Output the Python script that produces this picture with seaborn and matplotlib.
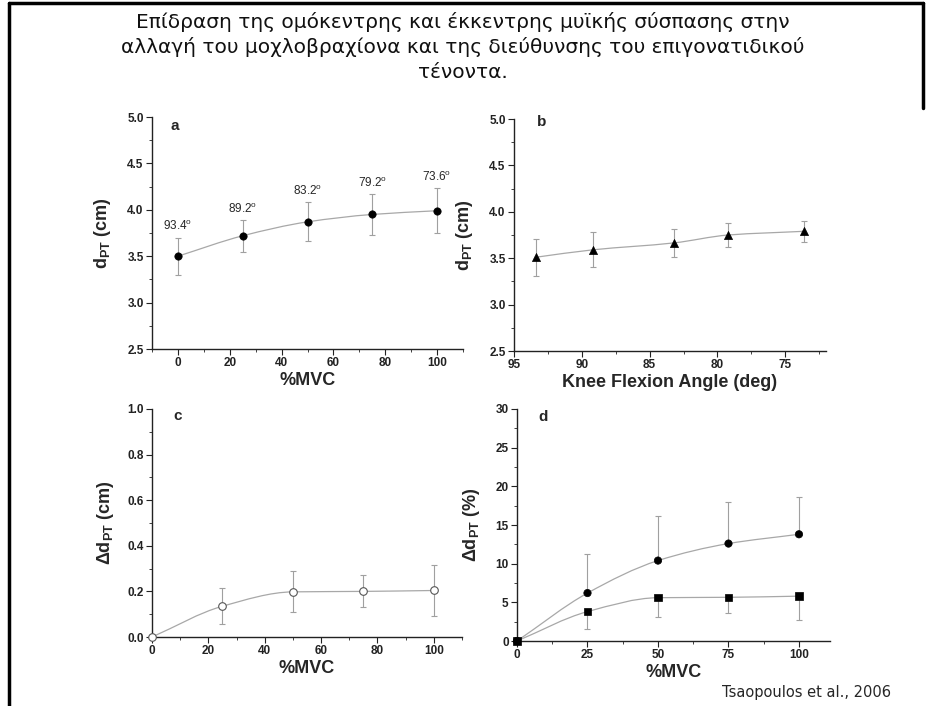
import numpy as np
import pandas as pd
import matplotlib
matplotlib.use("Agg")
import matplotlib.pyplot as plt
import seaborn as sns
from matplotlib.path import Path
from matplotlib.patches import PathPatch
from matplotlib.ticker import MultipleLocator
from matplotlib.lines import Line2D

# ---- data -------------------------------------------------------------
mvc = [0, 25, 50, 75, 100]

# (a) patellar tendon moment arm vs %MVC, with the knee angle at each level
d_pt = [3.50, 3.72, 3.87, 3.95, 3.99]
d_pt_sd = [0.20, 0.17, 0.21, 0.22, 0.24]
angle_labels = ["93.4", "89.2", "83.2", "79.2", "73.6"]

# (b) moment arm vs knee flexion angle
knee_angle = [93.4, 89.2, 83.2, 79.2, 73.6]
d_pt_angle = [3.51, 3.59, 3.665, 3.75, 3.79]
d_pt_angle_sd = [0.20, 0.19, 0.155, 0.125, 0.115]

# (c) absolute change of the moment arm
delta_cm = [0.0, 0.135, 0.198, 0.200, 0.204]
delta_cm_sd = [0.0, 0.08, 0.09, 0.07, 0.11]

# (d) relative change of the moment arm, two series
delta_pct_circ = [0.0, 6.2, 10.4, 12.6, 13.8]
delta_pct_circ_sd = [0.0, 5.1, 5.7, 5.4, 4.8]
delta_pct_sq = [0.0, 3.8, 5.6, 5.65, 5.8]
delta_pct_sq_sd = [0.0, 2.3, 2.5, 2.0, 3.1]

title_lines = [
    "Επίδραση της ομόκεντρης και έκκεντρης μυϊκής σύσπασης στην",
    "αλλαγή του μοχλοβραχίονα και της διεύθυνσης του επιγονατιδικού",
    "τένοντα.",
]
citation = "Tsaopoulos et al., 2006"

# ---- style ------------------------------------------------------------
sns.set_style("ticks")
plt.rcParams["font.family"] = ["Liberation Sans", "DejaVu Sans"]
plt.rcParams["font.weight"] = "bold"
plt.rcParams["mathtext.default"] = "regular"

LINE_C = "#a8a8a8"
ERR_C = "#a0a0a0"
TICK_FS = 8.5
LABEL_FS = 13


def smooth_path(x, y):
    """Monotone cubic (PCHIP-style) Bezier path through the given points."""
    x = np.asarray(x, float)
    y = np.asarray(y, float)
    h = np.diff(x)
    delta = np.diff(y) / h
    m = np.zeros_like(y)
    m[0], m[-1] = delta[0], delta[-1]
    for k in range(1, len(x) - 1):
        if delta[k - 1] * delta[k] <= 0:
            m[k] = 0.0
        else:
            w1 = 2 * h[k] + h[k - 1]
            w2 = h[k] + 2 * h[k - 1]
            m[k] = (w1 + w2) / (w1 / delta[k - 1] + w2 / delta[k])
    verts = [(x[0], y[0])]
    codes = [Path.MOVETO]
    for k in range(len(x) - 1):
        verts += [(x[k] + h[k] / 3, y[k] + m[k] * h[k] / 3),
                  (x[k + 1] - h[k] / 3, y[k + 1] - m[k + 1] * h[k] / 3),
                  (x[k + 1], y[k + 1])]
        codes += [Path.CURVE4] * 3
    return Path(verts, codes)


def add_curve(ax, x, y):
    ax.add_patch(PathPatch(smooth_path(x, y), facecolor="none",
                           edgecolor=LINE_C, lw=0.9, zorder=1))


def style_axis(ax, xmaj, xmin, ymaj, ymin):
    sns.despine(ax=ax)
    for s in ("left", "bottom"):
        ax.spines[s].set_linewidth(1.0)
        ax.spines[s].set_color("#222222")
    ax.xaxis.set_major_locator(MultipleLocator(xmaj))
    ax.xaxis.set_minor_locator(MultipleLocator(xmin))
    ax.yaxis.set_major_locator(MultipleLocator(ymaj))
    ax.yaxis.set_minor_locator(MultipleLocator(ymin))
    ax.tick_params(which="major", direction="out", length=4, width=0.8,
                   labelsize=TICK_FS, pad=2, colors="#222222")
    ax.tick_params(which="minor", direction="out", length=2, width=0.6,
                   colors="#222222")
    for lab in ax.get_xticklabels() + ax.get_yticklabels():
        lab.set_fontweight("bold")


def panel_letter(ax, x, y, s):
    ax.text(x, y, s, transform=ax.transAxes, fontsize=11,
            fontweight="bold", va="center", ha="left")


W, H = 931, 706
fig = plt.figure(figsize=(W / 100, H / 100), dpi=100)


def add_ax(left, top, right, bottom):
    return fig.add_axes([left / W, 1 - bottom / H,
                         (right - left) / W, (bottom - top) / H])


ax_a = add_ax(152, 117, 463, 349)
ax_b = add_ax(514, 119, 826, 351)
ax_c = add_ax(152, 409, 462, 637)
ax_d = add_ax(517, 409, 830, 641)

# ---- (a) --------------------------------------------------------------
df_a = pd.DataFrame({"mvc": mvc, "d": d_pt, "sd": d_pt_sd, "ang": angle_labels})
add_curve(ax_a, df_a["mvc"], df_a["d"])
ax_a.errorbar(df_a["mvc"], df_a["d"], yerr=df_a["sd"], fmt="none",
              ecolor=ERR_C, elinewidth=0.8, capsize=2.2, capthick=0.8, zorder=2)
sns.scatterplot(data=df_a, x="mvc", y="d", ax=ax_a, marker="o", s=28,
                color="black", edgecolor="black", linewidth=0.5, zorder=3,
                legend=False)
for _, r in df_a.iterrows():
    ax_a.annotate(f"{r['ang']}$^o$", (r["mvc"], r["d"] + r["sd"]),
                  xytext=(0, 3), textcoords="offset points",
                  ha="center", va="bottom", fontsize=8.5, fontweight="normal")
ax_a.set_xlim(-10, 110)
ax_a.set_ylim(2.5, 5.0)
style_axis(ax_a, 20, 10, 0.5, 0.25)
ax_a.set_xlabel("%MVC", fontsize=LABEL_FS, fontweight="bold", labelpad=2)
ax_a.set_ylabel("d$_{PT}$ (cm)", fontsize=LABEL_FS, fontweight="bold",
                labelpad=10)
panel_letter(ax_a, 0.06, 0.96, "a")

# ---- (b) --------------------------------------------------------------
df_b = pd.DataFrame({"angle": knee_angle, "d": d_pt_angle, "sd": d_pt_angle_sd})
add_curve(ax_b, df_b["angle"], df_b["d"])
ax_b.errorbar(df_b["angle"], df_b["d"], yerr=df_b["sd"], fmt="none",
              ecolor=ERR_C, elinewidth=0.8, capsize=2.2, capthick=0.8, zorder=2)
sns.scatterplot(data=df_b, x="angle", y="d", ax=ax_b, marker="^", s=34,
                color="black", edgecolor="black", linewidth=0.5, zorder=3,
                legend=False)
ax_b.set_xlim(95, 72)
ax_b.set_ylim(2.5, 5.0)
style_axis(ax_b, 5, 2.5, 0.5, 0.25)
ax_b.set_xlabel("Knee Flexion Angle (deg)", fontsize=LABEL_FS,
                fontweight="bold", labelpad=2)
ax_b.set_ylabel("d$_{PT}$ (cm)", fontsize=LABEL_FS, fontweight="bold",
                labelpad=10)
panel_letter(ax_b, 0.075, 0.985, "b")

# ---- (c) --------------------------------------------------------------
df_c = pd.DataFrame({"mvc": mvc, "d": delta_cm, "sd": delta_cm_sd})
add_curve(ax_c, df_c["mvc"], df_c["d"])
ax_c.errorbar(df_c["mvc"], df_c["d"], yerr=df_c["sd"], fmt="none",
              ecolor=ERR_C, elinewidth=0.8, capsize=2.2, capthick=0.8, zorder=2)
sns.scatterplot(data=df_c, x="mvc", y="d", ax=ax_c, marker="o", s=30,
                color="white", edgecolor="#555555", linewidth=0.8, zorder=3,
                legend=False, clip_on=False)
ax_c.set_xlim(0, 110)
ax_c.set_ylim(0, 1.0)
style_axis(ax_c, 20, 10, 0.2, 0.1)
ax_c.set_xlabel("%MVC", fontsize=LABEL_FS, fontweight="bold", labelpad=2)
ax_c.set_ylabel("Δd$_{PT}$ (cm)", fontsize=LABEL_FS, fontweight="bold",
                labelpad=8)
panel_letter(ax_c, 0.068, 0.97, "c")

# ---- (d) --------------------------------------------------------------
df_d = pd.DataFrame({"mvc": mvc * 2,
                     "d": delta_pct_circ + delta_pct_sq,
                     "series": ["circle"] * 5 + ["square"] * 5})
add_curve(ax_d, mvc, delta_pct_circ)
add_curve(ax_d, mvc, delta_pct_sq)
zeros = np.zeros(len(mvc))
ax_d.errorbar(mvc, delta_pct_circ, yerr=[zeros, delta_pct_circ_sd], fmt="none",
              ecolor=ERR_C, elinewidth=0.8, capsize=2.2, capthick=0.8, zorder=2)
ax_d.errorbar(mvc, delta_pct_sq, yerr=[delta_pct_sq_sd, zeros], fmt="none",
              ecolor=ERR_C, elinewidth=0.8, capsize=2.2, capthick=0.8, zorder=2)
sns.scatterplot(data=df_d, x="mvc", y="d", style="series",
                markers={"circle": "o", "square": "s"}, ax=ax_d, s=28,
                color="black", edgecolor="black", linewidth=0.5, zorder=3,
                legend=False, clip_on=False)
ax_d.set_xlim(0, 111)
ax_d.set_ylim(0, 30)
style_axis(ax_d, 25, 12.5, 5, 2.5)
ax_d.set_xlabel("%MVC", fontsize=LABEL_FS, fontweight="bold", labelpad=2)
ax_d.set_ylabel("Δd$_{PT}$ (%)", fontsize=LABEL_FS, fontweight="bold",
                labelpad=10)
panel_letter(ax_d, 0.067, 0.966, "d")

# ---- slide text and frame ---------------------------------------------
for i, line in enumerate(title_lines):
    fig.text(0.497, 1 - (22 + 25 * i) / H, line, ha="center", va="center",
             fontsize=14.5, fontweight="normal", family="DejaVu Sans",
             color="#111111")
fig.text(722 / W, 1 - 693 / H, citation, ha="left", va="center",
         fontsize=10.5, fontweight="normal", family="DejaVu Sans")

fig.add_artist(Line2D([9 / W, 9 / W], [0, 1 - 3 / H], color="black", lw=2.5,
                      transform=fig.transFigure))
fig.add_artist(Line2D([9 / W, 923 / W], [1 - 3 / H, 1 - 3 / H], color="black",
                      lw=2.5, transform=fig.transFigure))
fig.add_artist(Line2D([923 / W, 923 / W], [1 - 3 / H, 1 - 108 / H],
                      color="black", lw=2.5, transform=fig.transFigure))

fig.savefig("out.png", dpi=100)
